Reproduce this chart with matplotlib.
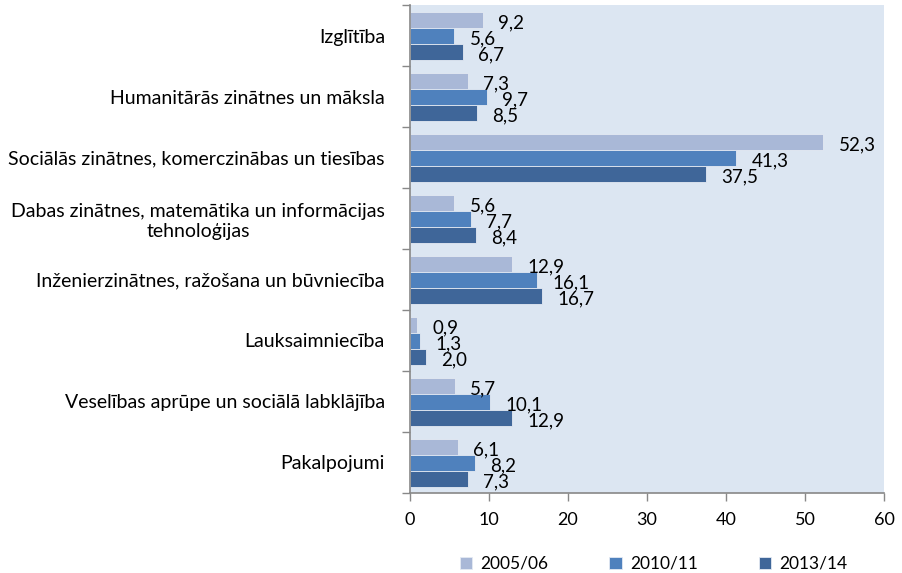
import matplotlib
matplotlib.use("Agg")
import matplotlib.pyplot as plt
import numpy as np

plt.rcParams["font.family"] = ["Lato", "DejaVu Sans"]

categories = [
    "Izglītība",
    "Humanitārās zinātnes un māksla",
    "Sociālās zinātnes, komerczinābas un tiesības",
    "Dabas zinātnes, matemātika un informācijas\ntehnoloģijas",
    "Inženierzinātnes, ražošana un būvniecība",
    "Lauksaimniecība",
    "Veselības aprūpe un sociālā labklājība",
    "Pakalpojumi",
]
series_names = ["2005/06", "2010/11", "2013/14"]
v_2005 = [9.2, 7.3, 52.3, 5.6, 12.9, 0.9, 5.7, 6.1]
v_2010 = [5.6, 9.7, 41.3, 7.7, 16.1, 1.3, 10.1, 8.2]
v_2013 = [6.7, 8.5, 37.5, 8.4, 16.7, 2.0, 12.9, 7.3]
colors = ["#A9B8D7", "#4F81BD", "#3F6699"]

fig = plt.figure(figsize=(9.03, 5.73), dpi=100)
ax = fig.add_axes([0.454, 0.140, 0.525, 0.851])
ax.set_facecolor("#DCE6F2")

y = np.arange(len(categories))
h = 0.262
for i, (vals, name, col) in enumerate(zip([v_2005, v_2010, v_2013], series_names, colors)):
    pos = y + (i - 1) * h + 0.01
    ax.barh(pos, vals, height=h, color=col, edgecolor="#E4EAF3", linewidth=0.6, label=name)
    for p, v in zip(pos, vals):
        ax.annotate(f"{v:.1f}".replace(".", ","), (v, p), xytext=(11, -2),
                    textcoords="offset points", ha="left", va="center", fontsize=13.5)

ax.set_xlim(0, 60)
ax.set_ylim(len(categories) - 0.5, -0.5)
ax.set_xticks(np.arange(0, 61, 10))
ax.set_yticks(np.arange(-0.5, len(categories)), labels=[""] * (len(categories) + 1))
ax.set_yticks(y, labels=categories, minor=True)
ax.tick_params(axis="y", which="minor", length=0, pad=18, labelsize=14)
ax.tick_params(axis="y", which="major", length=6, color="#888888", width=1)
ax.tick_params(axis="x", length=6, color="#888888", width=1, labelsize=13, pad=8)
for lbl in ax.get_yticklabels(minor=True):
    lbl.set_multialignment("center")

for s in ["top", "right"]:
    ax.spines[s].set_visible(False)
for s in ["left", "bottom"]:
    ax.spines[s].set_color("#888888")
    ax.spines[s].set_linewidth(1.2)

fig.legend(loc="lower center", bbox_to_anchor=(0.724, -0.025), ncol=3, frameon=False,
           fontsize=12.5, handlelength=0.7, handleheight=0.7, handletextpad=0.5,
           columnspacing=3.5)

fig.savefig("out.png", dpi=100)
